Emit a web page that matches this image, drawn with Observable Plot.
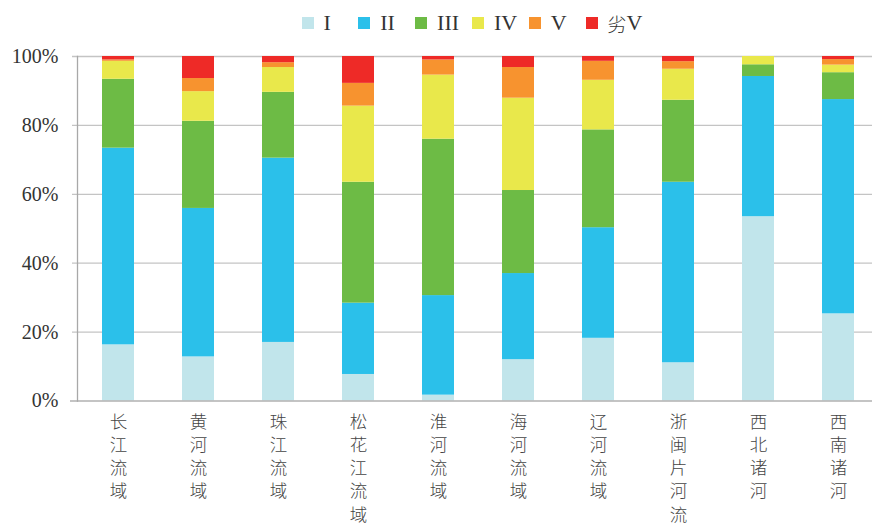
<!DOCTYPE html>
<html>
<head>
<meta charset="utf-8">
<script src="https://cdn.jsdelivr.net/npm/d3@7"></script>
<script src="https://cdn.jsdelivr.net/npm/@observablehq/plot@0.6"></script>
<style>
  html, body { margin: 0; padding: 0; background: #fff; }
  #legend { height: 44px; position: relative; font-family: "Liberation Serif", serif; font-size: 22px; color: #333; }
  #legend .item { position: absolute; top: 10px; display: flex; align-items: center; height: 26px; }
  #legend .sw { width: 12px; height: 12px; margin-right: 10px; }
  #legend .cjk { font-family: "Noto Sans CJK SC", sans-serif; font-weight: 300; font-size: 19px; }
  #chart g[aria-label="y-axis tick label"] text { font-family: "Liberation Serif", serif; }
</style>
</head>
<body>
<div id="legend"></div>
<div id="chart"></div>
<script>
const basins = ["长江流域", "黄河流域", "珠江流域", "松花江流域", "淮河流域", "海河流域", "辽河流域", "浙闽片河流", "西北诸河", "西南诸河"];
const classes = ["I", "II", "III", "IV", "V", "劣V"];
const colors = ["#c1e5eb", "#2bc0ea", "#6dbb45", "#e9e84b", "#f7932f", "#ee2a27"];

// percentage of each class per basin
const classI   = [16.3, 12.8, 17.0,  7.7,  1.7, 12.0, 18.2, 11.1, 53.5, 25.3];
const classII  = [57.1, 43.1, 53.5, 20.7, 28.9, 25.0, 32.1, 52.4, 40.7, 62.2];
const classIII = [20.0, 25.3, 19.1, 35.1, 45.4, 24.1, 28.4, 23.8,  3.4,  7.8];
const classIV  = [ 5.2,  8.6,  7.2, 22.1, 18.6, 26.8, 14.4,  9.0,  2.4,  2.2];
const classV   = [ 0.4,  3.8,  1.4,  6.6,  4.4,  8.9,  5.5,  2.2,  0.0,  1.6];
const classVI  = [ 1.0,  6.4,  1.8,  7.8,  1.0,  3.2,  1.4,  1.5,  0.0,  0.9];
const yTicks = [0, 20, 40, 60, 80, 100];

const series = [classI, classII, classIII, classIV, classV, classVI];
const data = [];
basins.forEach((b, i) => {
  classes.forEach((c, j) => data.push({basin: b, cls: c, value: series[j][i]}));
});

// legend
const legend = document.getElementById("legend");
classes.forEach((c, j) => {
  const it = document.createElement("div");
  it.className = "item";
  it.style.left = (301.5 + j * 56.8) + "px";
  const label = c.startsWith("劣") ? `<span class="cjk">劣</span><span>${c.slice(1)}</span>` : `<span>${c}</span>`;
  it.innerHTML = `<span class="sw" style="background:${colors[j]}"></span>${label}`;
  legend.appendChild(it);
});

const chart = Plot.plot({
  width: 872,
  height: 481,
  marginTop: 12,
  marginBottom: 124.5,
  marginLeft: 77,
  marginRight: 0,
  x: {domain: basins, range: [77.4, 879.4], paddingInner: 0.6, paddingOuter: 0.3, axis: null, label: null},
  y: {domain: [0, 100], axis: null, label: null},
  color: {domain: classes, range: colors},
  style: {background: "#fff"},
  marks: [
    Plot.ruleY(yTicks.slice(1), {stroke: "#c4c4c4", strokeWidth: 1.3, insetLeft: -5}),
    Plot.barY(data, {x: "basin", y: "value", fill: "cls", order: classes}),
    Plot.ruleY([0], {stroke: "#b0b0b0", strokeWidth: 1.5, insetLeft: -7}),
    Plot.frame({anchor: "left", stroke: "#a8a8a8", strokeWidth: 1.3}),
    Plot.axisY({ticks: yTicks, tickSize: 0, tickPadding: 19, tickFormat: d => d + "%", label: null,
      fontSize: 20, fontFamily: "Liberation Serif", fill: "#333"}),
    Plot.axisX({tickSize: 0, tickPadding: 10, tickFormat: d => [...d].join("\n"), label: null,
      fontSize: 17.5, lineHeight: 1.33, fontFamily: "Noto Sans CJK SC", fontWeight: 300, fill: "#444"})
  ]
});
document.getElementById("chart").appendChild(chart);
</script>
</body>
</html>
